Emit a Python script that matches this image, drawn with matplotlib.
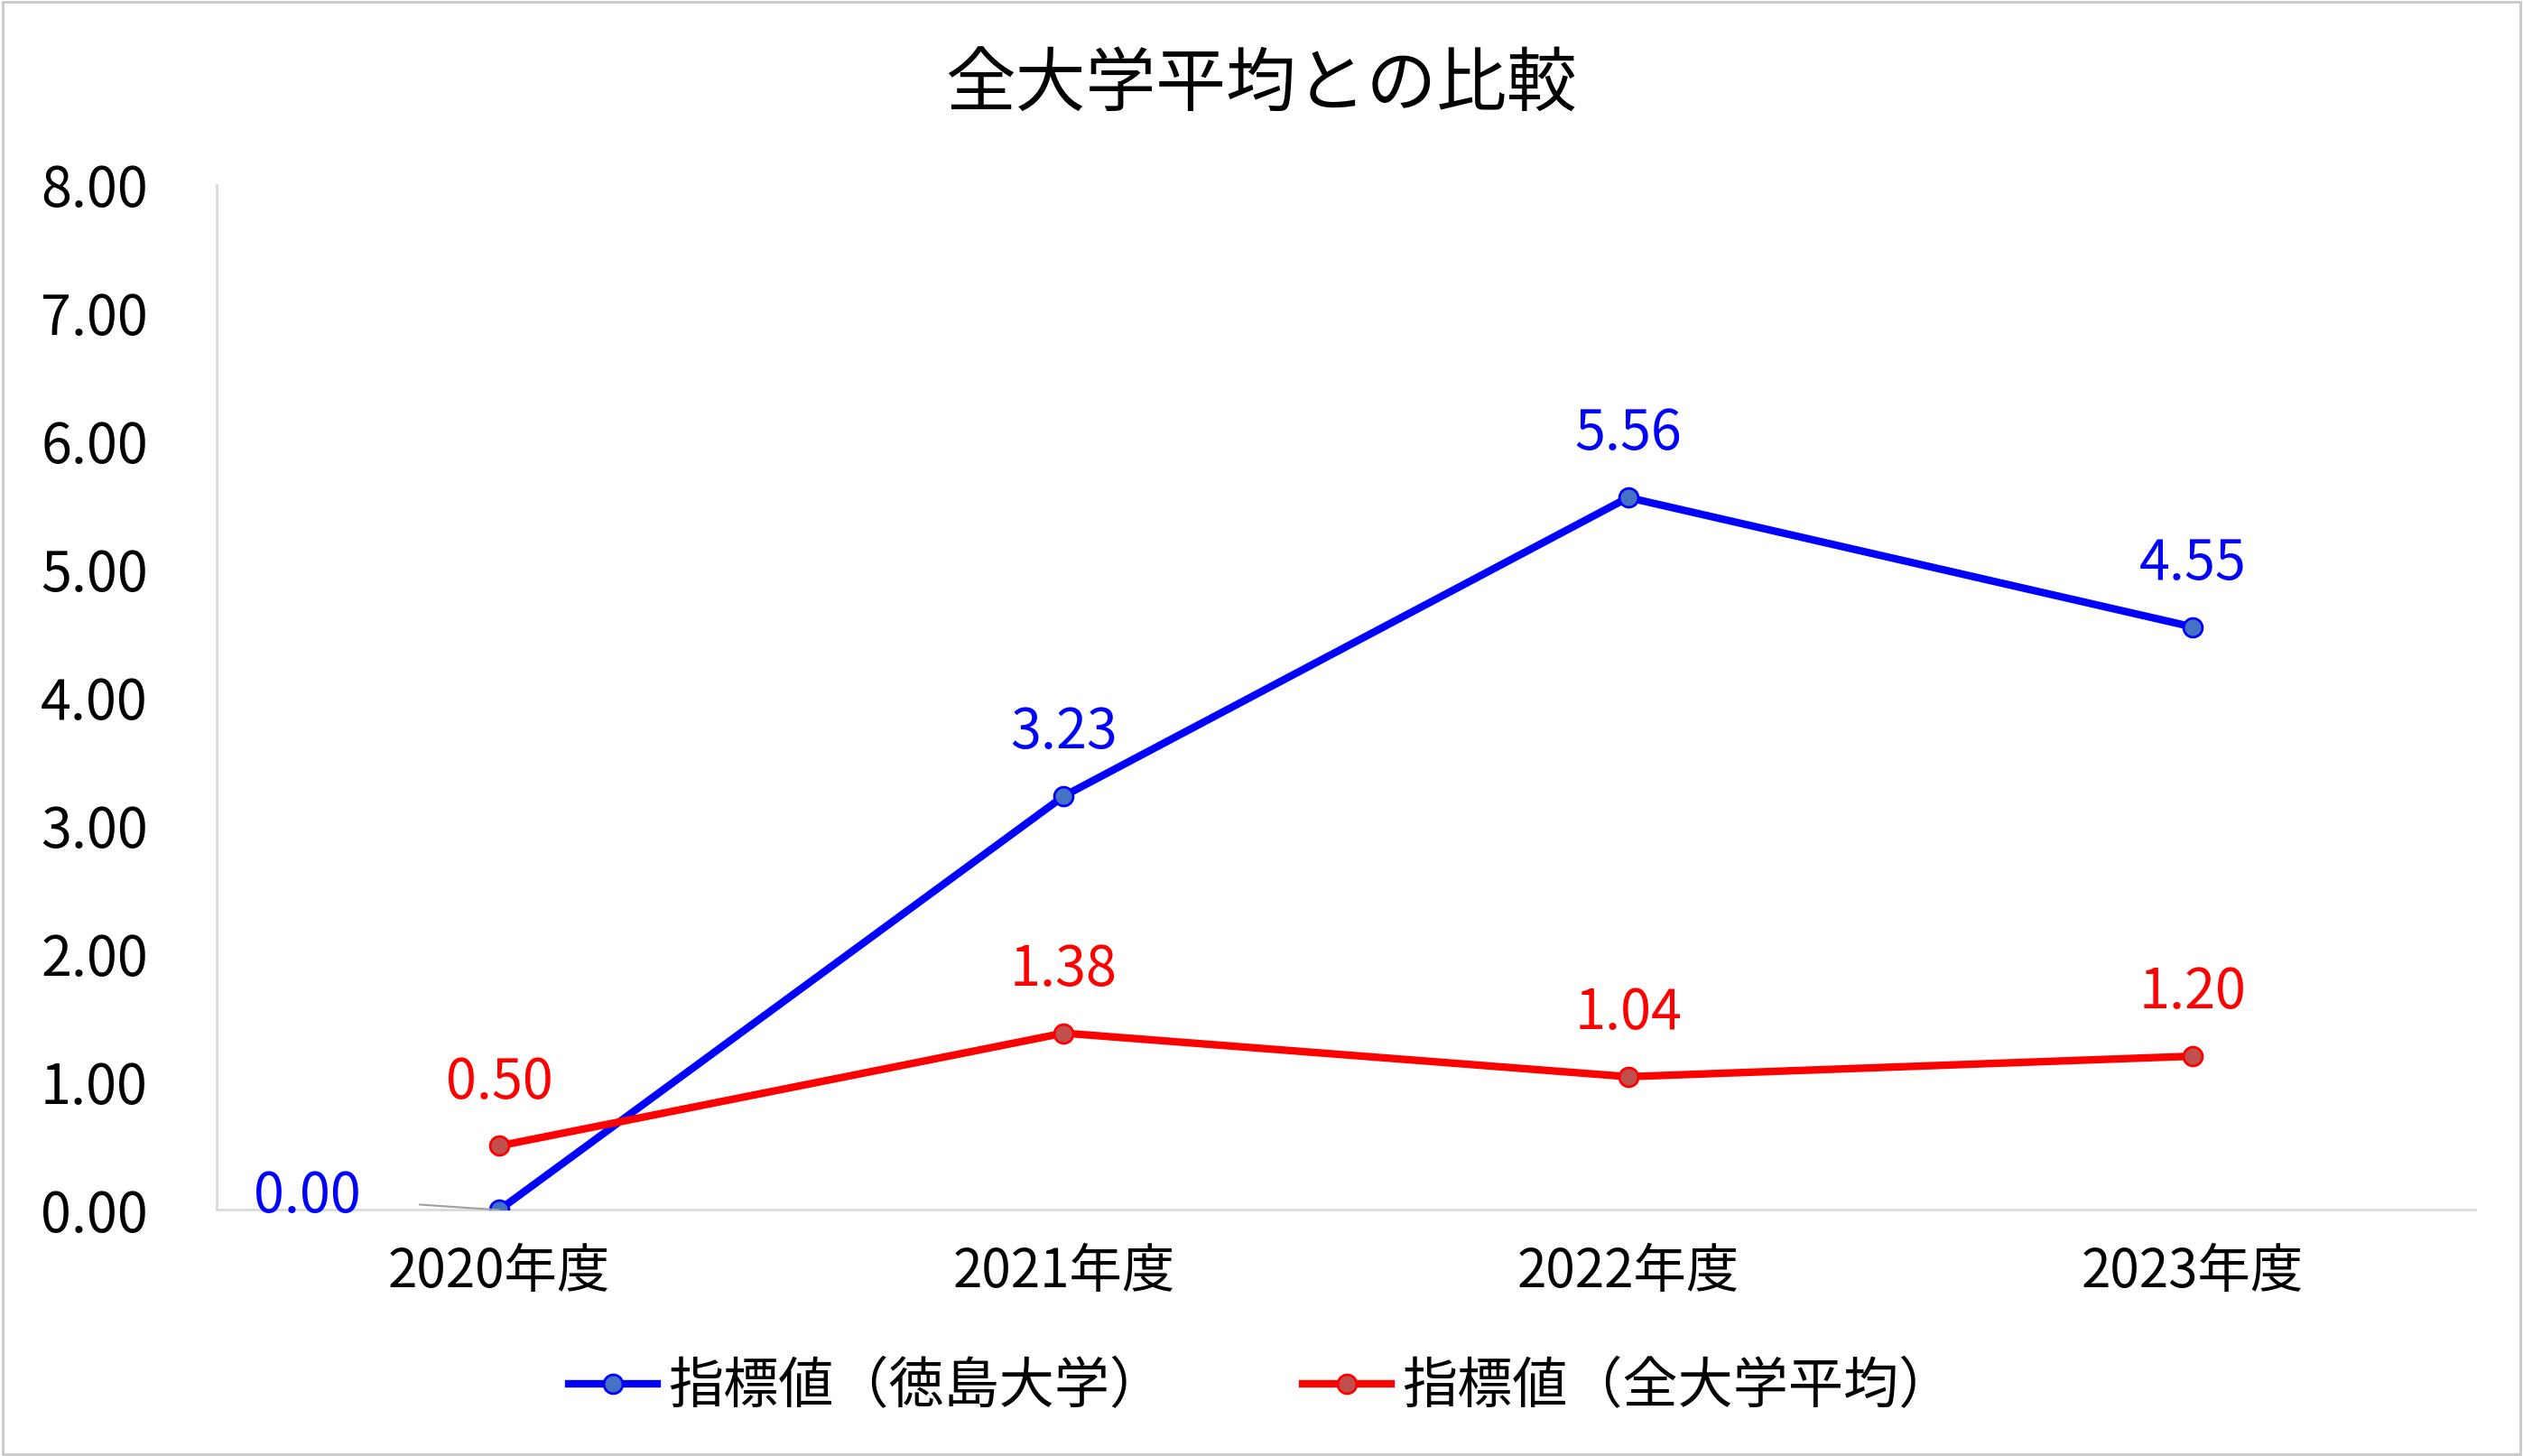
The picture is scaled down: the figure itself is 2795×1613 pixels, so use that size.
import matplotlib
matplotlib.use("Agg")
import matplotlib.pyplot as plt
from matplotlib.patches import Rectangle

categories = ["2020年度", "2021年度", "2022年度", "2023年度"]
tokushima = [0.00, 3.23, 5.56, 4.55]
all_avg = [0.50, 1.38, 1.04, 1.20]
yticks = [0, 1, 2, 3, 4, 5, 6, 7, 8]

plt.rcParams["font.family"] = "Noto Sans CJK JP"
fig = plt.figure(figsize=(27.95, 16.13), dpi=100)
fig.patches.append(Rectangle((0.001, 0.001), 0.998, 0.998, transform=fig.transFigure,
                             fill=False, edgecolor="#c8c8c8", linewidth=2))
ax = fig.add_axes([0.086, 0.169, 0.895, 0.704])
x = list(range(len(categories)))
ax.plot(x, tokushima, color="#0000ff", lw=6, marker="o", ms=15,
        mfc="#4472c4", mec="#0000ff", mew=2, label="指標値（徳島大学）", zorder=3)
ax.plot(x, all_avg, color="#ff0000", lw=6, marker="o", ms=15,
        mfc="#c0504d", mec="#ff0000", mew=2, label="指標値（全大学平均）", zorder=3)
ax.set_xlim(-0.5, 3.5)
ax.set_ylim(0, 8)
ax.set_yticks(yticks)
ax.set_yticklabels([f"{v:.2f}" for v in yticks])
ax.set_xticks(x)
ax.set_xticklabels(categories)
ax.tick_params(axis="y", labelsize=44, length=0, pad=55)
ax.tick_params(axis="x", labelsize=42, length=0, pad=28)
for s in ["top", "right"]:
    ax.spines[s].set_visible(False)
for s in ["left", "bottom"]:
    ax.spines[s].set_color("#d9d9d9")
    ax.spines[s].set_linewidth(2)

for i, v in enumerate(tokushima):
    if i == 0:
        ax.annotate(f"{v:.2f}", xy=(i, v), xytext=(-0.34, 0.1), fontsize=44,
                    color="#0000ff", ha="center", va="center",
                    arrowprops=dict(arrowstyle="-", color="#a0a0a0", lw=1.5, shrinkA=45, shrinkB=0))
    else:
        ax.annotate(f"{v:.2f}", xy=(i, v), xytext=(0, 28), textcoords="offset points",
                    fontsize=44, color="#0000ff", ha="center", va="bottom")
for i, v in enumerate(all_avg):
    ax.annotate(f"{v:.2f}", xy=(i, v), xytext=(0, 28), textcoords="offset points",
                fontsize=44, color="#ff0000", ha="center", va="bottom")

fig.suptitle("全大学平均との比較", fontsize=56, y=0.965)
fig.legend(loc="center", bbox_to_anchor=(0.5, 0.047), ncol=2, fontsize=44,
           frameon=False, handlelength=1.6, handletextpad=0.2, columnspacing=2.5)
fig.savefig("out.png", dpi=100)
